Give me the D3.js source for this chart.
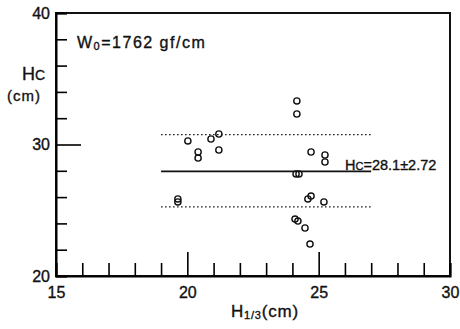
<!DOCTYPE html>
<html><head><meta charset="utf-8">
<script src="https://cdn.jsdelivr.net/npm/d3@7"></script>
<style>
body{margin:0;background:#fff;}
text{font-family:"Liberation Sans",Arial,sans-serif;fill:#111;stroke:#111;stroke-width:0.35px;}
</style></head>
<body><svg id="c" width="460" height="329"></svg>
<script>
// Data: H1/3 (cm) vs Hc (cm)
const h13 = [20.02,20.41,20.41,20.90,21.20,21.20,24.17,24.17,24.71,25.24,25.24,24.14,24.25,24.59,24.71,25.20,24.10,24.21,24.48,24.67,19.64,19.64];
const hc  = [30.27,29.43,28.97,30.42,30.80,29.58,33.31,32.32,29.43,29.20,28.67,27.76,27.76,25.86,26.08,25.63,24.33,24.18,23.65,22.43,25.86,25.63];
const meanLine = 27.95, upperLine = 30.75, lowerLine = 25.25;
const lineSpan = [19, 27];
const xTicks = d3.range(15, 31, 1);
const xLabels = [15, 20, 25, 30];
const xMajor = [20, 25];
const yTicks = d3.range(20, 41, 2);
const yLabels = [20, 30, 40];
const yMajor = [30];

const svg = d3.select("#c");
const x = d3.scaleLinear().domain([15, 30]).range([56, 450]);
const y = d3.scaleLinear().domain([20, 40]).range([276, 13]);

// frame
svg.append("rect").attr("x", x(15)).attr("y", y(40))
  .attr("width", x(30) - x(15)).attr("height", y(20) - y(40))
  .attr("fill", "none").attr("stroke", "#111").attr("stroke-width", 2);

// x axis
const gx = svg.append("g").attr("transform", `translate(0,${y(20)})`)
  .call(d3.axisBottom(x).tickValues(xTicks).tickSize(-13).tickPadding(11)
    .tickFormat(d => xLabels.includes(d) ? d : ""));
gx.select(".domain").attr("stroke-width", 2);
gx.selectAll(".tick line").attr("stroke-width", 1.6)
  .attr("y2", d => xMajor.includes(d) ? -24 : -13);
gx.selectAll(".tick text").attr("font-size", 16).attr("font-family", "Liberation Sans, Arial, sans-serif").attr("fill", "#111");

// y axis
const gy = svg.append("g").attr("transform", `translate(${x(15)},0)`)
  .call(d3.axisLeft(y).tickValues(yTicks).tickSize(-11).tickPadding(6)
    .tickFormat(d => yLabels.includes(d) ? d : ""));
gy.select(".domain").attr("stroke-width", 2);
gy.selectAll(".tick line").attr("stroke-width", 1.6)
  .attr("x2", d => yMajor.includes(d) ? 25 : 11);
gy.selectAll(".tick text").attr("font-size", 16).attr("font-family", "Liberation Sans, Arial, sans-serif").attr("fill", "#111");

// mean and +/- lines
svg.append("line").attr("x1", x(lineSpan[0])).attr("x2", x(lineSpan[1]))
  .attr("y1", y(meanLine)).attr("y2", y(meanLine))
  .attr("stroke", "#111").attr("stroke-width", 1.8);
[upperLine, lowerLine].forEach(v => {
  svg.append("line").attr("x1", x(lineSpan[0])).attr("x2", x(lineSpan[1]))
    .attr("y1", y(v)).attr("y2", y(v))
    .attr("stroke", "#111").attr("stroke-width", 1.3).attr("stroke-dasharray", "1.5,2.5");
});

// points
svg.append("g").selectAll("circle").data(h13).join("circle")
  .attr("cx", d => x(d)).attr("cy", (d, i) => y(hc[i])).attr("r", 3.1)
  .attr("fill", "none").attr("stroke", "#111").attr("stroke-width", 1.4);

// texts
const t1 = svg.append("text").attr("x", 77).attr("y", 48).attr("font-size", 16).attr("letter-spacing", 1.5);
t1.append("tspan").text("W");
t1.append("tspan").attr("font-size", 11).attr("dy", 2).text("0");
t1.append("tspan").attr("dy", -2).text("=1762 gf/cm");

const t2 = svg.append("text").attr("x", 22).attr("y", 80).attr("font-size", 18);
t2.append("tspan").text("H");
t2.append("tspan").attr("font-size", 14).text("C");
svg.append("text").attr("x", 7).attr("y", 101).attr("font-size", 15).attr("letter-spacing", 1).text("(cm)");

const t3 = svg.append("text").attr("x", 345).attr("y", 170).attr("font-size", 14.5);
t3.append("tspan").text("H");
t3.append("tspan").attr("font-size", 11).text("C");
t3.append("tspan").text("=28.1±2.72");

const t4 = svg.append("text").attr("x", 265).attr("y", 317).attr("font-size", 17).attr("text-anchor", "middle").attr("letter-spacing", 0.8);
t4.append("tspan").text("H");
t4.append("tspan").attr("font-size", 11).attr("dy", 2).text("1/3");
t4.append("tspan").attr("dy", -2).text("(cm)");
</script></body></html>
